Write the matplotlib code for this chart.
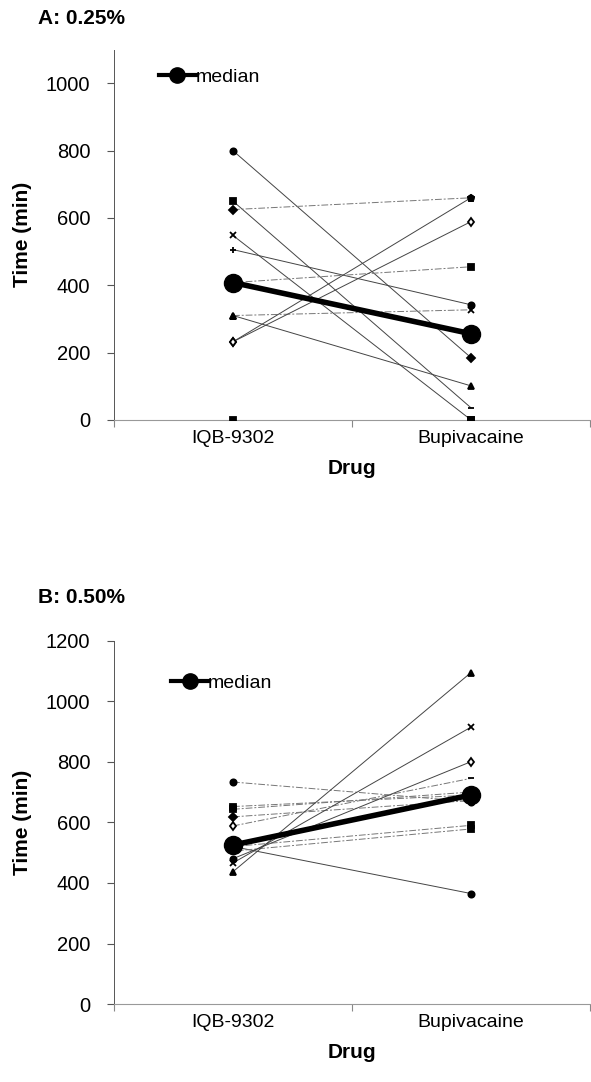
import matplotlib.pyplot as plt
from matplotlib.lines import Line2D

plt.rcParams['font.family'] = ['Liberation Sans', 'DejaVu Sans']

drugs = ['IQB-9302', 'Bupivacaine']

# Panel A: 0.25 %  (time in min, one entry per subject)
iqb_a = [800, 650, 625, 548, 506, 408, 310, 310, 232, 232, 0]
bup_a = [185, 36, 660, 0, 342, 455, 101, 327, 660, 589, 0]
median_a = [408, 256]

# Panel B: 0.50 %
iqb_b = [733, 652, 643, 618, 588, 520, 520, 505, 437, 466, 480]
bup_b = [668, 690, 700, 672, 745, 590, 365, 578, 1094, 914, 800]
median_b = [525, 690]

# marker style per subject (left end, right end) and line style
style_a = [('o', 'D', '-'), ('s', '_', '-'), ('D', 'p', '--'), ('x', 's', '-'),
           ('+', 'o', '-'), ('o', 's', '--'), ('^', '^', '-'), ('^', 'x', '--'),
           ('d', 'p', '-'), ('d', 'd', '-'), ('s', 's', '')]
style_b = [('o', 'o', '--'), ('s', 'o', '-.'), ('s', '+', '-.'), ('D', 'o', '--'),
           ('d', '_', '--'), ('o', 's', '--'), ('o', 'o', '-'), ('x', 's', '--'),
           ('^', '^', '-'), ('x', 'x', '-'), ('o', 'd', '-')]


def draw_panel(ax, left_vals, right_vals, med, styles, ymax, yticks, title, leg_xy):
    xs = [0.5, 1.5]
    for lv, rv, (ml, mr, ls) in zip(left_vals, right_vals, styles):
        if ls:
            col = '#444444' if ls == '-' else '#777777'
            ax.plot(xs, [lv, rv], ls=ls, color=col, lw=0.7, zorder=2,
                    dashes=(7, 2, 2, 2) if ls != '-' else (None, None))
        for x, v, m in ((xs[0], lv, ml), (xs[1], rv, mr)):
            size = 5 if m in ('x', '+', '_') else 4.5
            face = 'white' if m == 'd' else 'black'
            ax.plot(x, v, marker=m, ms=size, mfc=face, mec='black',
                    mew=1.3, ls='none', zorder=3)
    ax.plot(xs, med, color='black', lw=4, marker='o', ms=13, zorder=4)

    ax.set_xlim(0, 2)
    ax.set_ylim(0, ymax)
    ax.set_yticks(yticks)
    ax.set_xticks([0, 1, 2])
    ax.set_xticklabels([])
    ax.set_xticks(xs, minor=True)
    ax.set_xticklabels(drugs, minor=True)
    ax.tick_params(axis='x', which='minor', length=0, pad=7, labelsize=14)
    ax.tick_params(axis='x', which='major', length=5, color='#888888')
    ax.tick_params(axis='y', labelsize=14.5, length=5, color='#555555', pad=12)
    for s in ('top', 'right'):
        ax.spines[s].set_visible(False)
    ax.spines['left'].set_color('#555555')
    ax.spines['left'].set_linewidth(0.7)
    ax.spines['bottom'].set_color('#999999')
    ax.spines['bottom'].set_linewidth(0.8)
    ax.set_ylabel('Time (min)', fontsize=15, fontweight='bold', labelpad=10)
    ax.set_xlabel('Drug', fontsize=15, fontweight='bold', labelpad=9)

    h = Line2D([], [], color='black', lw=3, marker='o', ms=11)
    ax.legend([h], ['median'], loc='center left', bbox_to_anchor=leg_xy,
              frameon=False, handlelength=1.9, handletextpad=0.0,
              borderpad=0, borderaxespad=0, fontsize=14)
    ax.figure.text(0.064, ax.get_position().y1 + title[1], title[0],
                   fontsize=15, fontweight='bold', va='center')


fig = plt.figure(figsize=(5.91, 10.82), dpi=100)
ax_a = fig.add_axes([0.193, 0.612, 0.805, 0.342])
ax_b = fig.add_axes([0.193, 0.072, 0.805, 0.336])

draw_panel(ax_a, iqb_a, bup_a, median_a, style_a, 1100, range(0, 1001, 200),
           ('A: 0.25%', 0.029), (0.094, 0.927))
draw_panel(ax_b, iqb_b, bup_b, median_b, style_b, 1200, range(0, 1201, 200),
           ('B: 0.50%', 0.040), (0.12, 0.882))

fig.savefig('out.png', dpi=100)
